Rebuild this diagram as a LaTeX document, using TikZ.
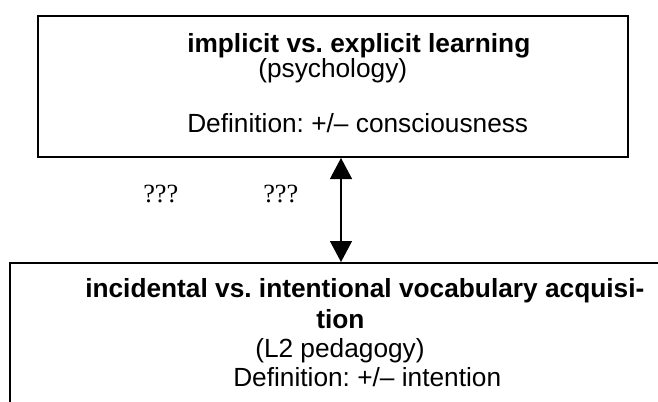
\documentclass[tikz,border=0pt]{standalone}
\usepackage{fontspec}
\setmainfont{Liberation Serif}
\setsansfont{Liberation Sans}
\usepackage{tikz}
\usetikzlibrary{arrows.meta,fit}
\frenchspacing

\begin{document}
\begin{tikzpicture}[
  x=0.75pt, y=-0.75pt,
  box/.style={draw, line width=1.5pt, inner sep=0pt},
  txt/.style={anchor=base west, inner sep=0pt, font=\sffamily\fontsize{19.7}{24}\selectfont},
  hd/.style={txt, font=\sffamily\bfseries\fontsize{19.7}{24}\selectfont},
  qq/.style={anchor=base west, inner sep=0pt, font=\rmfamily\fontsize{19.7}{24}\selectfont},
  dblarr/.style={{Triangle[length=15.75pt,width=16.5pt]}-{Triangle[length=15.75pt,width=16.5pt]}, line width=1pt}
]
  \useasboundingbox (0,0) rectangle (658,401);
  \clip (0,0) rectangle (658,401);

  % the two boxes (the lower one runs off the page)
  \node[box, fit={(38,16) (628,157)}] (learn) {};
  \node[box, fit={(10,263) (700,460)}] (acq) {};

  \node[hd] (head1) at (187,52) {implicit vs. explicit learning};
  \node[txt] (field1) at (258,77) {(psychology)};
  \node[txt] (def1) at (187,132) {Definition: +/– consciousness};

  \node[hd] (head2a) at (85,297) {incidental vs. intentional vocabulary acquisi-};
  \node[hd] (head2b) at (316,328) {tion};
  \node[txt] (field2) at (255,357) {(L2 pedagogy)};
  \node[txt] (def2) at (233,386) {Definition: +/– intention};

  \node[qq] (q1) at (143,202) {???};
  \node[qq] (q2) at (263,202) {???};

  \coordinate (ax) at (341,0);
  \draw[dblarr] (learn.south -| ax) -- (acq.north -| ax);
\end{tikzpicture}
\end{document}
